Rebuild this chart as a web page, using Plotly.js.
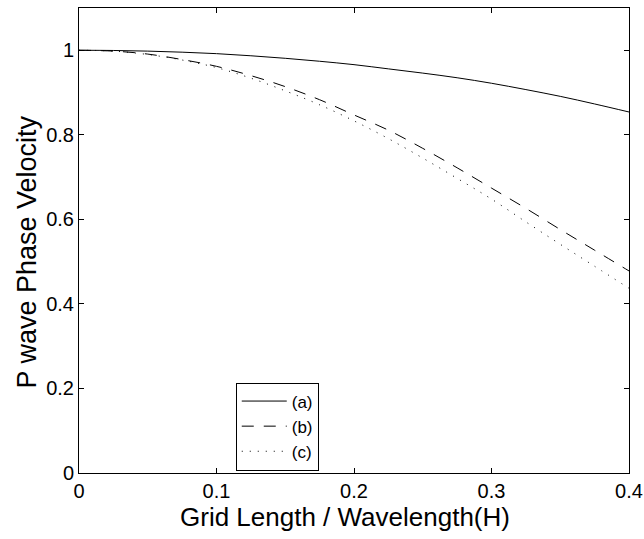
<!DOCTYPE html>
<html>
<head>
<meta charset="utf-8">
<script src="https://cdn.plot.ly/plotly-3.0.1.min.js"></script>
<style>html,body{margin:0;padding:0;background:#fff;}#chart{width:644px;height:539px;}</style>
</head>
<body>
<div id="chart"></div>
<script>
var xValues = [0, 0.025, 0.05, 0.075, 0.1, 0.125, 0.15, 0.175, 0.2, 0.225, 0.25, 0.275, 0.3, 0.325, 0.35, 0.375, 0.4];
var seriesA = [1.000, 0.9995, 0.998, 0.9955, 0.992, 0.987, 0.981, 0.974, 0.966, 0.956, 0.946, 0.935, 0.922, 0.907, 0.891, 0.873, 0.854];
var seriesB = [1.000, 0.998, 0.991, 0.978, 0.962, 0.940, 0.914, 0.883, 0.847, 0.811, 0.768, 0.722, 0.674, 0.626, 0.576, 0.527, 0.478];
var seriesC = [1.000, 0.998, 0.990, 0.977, 0.959, 0.934, 0.904, 0.871, 0.833, 0.791, 0.745, 0.697, 0.648, 0.594, 0.541, 0.489, 0.437];
var seriesNames = ['(a)', '(b)', '(c)'];
var xTicks = [0, 0.1, 0.2, 0.3, 0.4];
var xTickText = ['0', '0.1', '0.2', '0.3', '0.4'];
var yTicks = [0, 0.2, 0.4, 0.6, 0.8, 1];
var yTickText = ['0', '0.2', '0.4', '0.6', '0.8', '1'];
var xTitle = 'Grid Length / Wavelength(H)';
var yTitle = 'P wave Phase Velocity';

var font = 'Liberation Sans, Arial, Helvetica, sans-serif';
var traces = [
  {x: xValues, y: seriesA, name: seriesNames[0], mode: 'lines', line: {color: '#000', width: 1, shape: 'spline'}},
  {x: xValues, y: seriesB, name: seriesNames[1], mode: 'lines', line: {color: '#000', width: 1, dash: '12px,10px', shape: 'spline'}},
  {x: xValues, y: seriesC, name: seriesNames[2], mode: 'lines', line: {color: '#000', width: 1, dash: '1px,7px', shape: 'spline'}}
];
var axisCommon = {
  showgrid: false, zeroline: false, showline: true, linecolor: '#000', linewidth: 1,
  mirror: 'ticks', ticks: 'inside', ticklen: 5, tickcolor: '#000', tickwidth: 1,
  tickfont: {family: font, size: 20, color: '#000'}
};
var layout = {
  width: 644, height: 539,
  margin: {l: 79, r: 15, t: 8, b: 66},
  paper_bgcolor: '#fff', plot_bgcolor: '#fff',
  font: {family: font, color: '#000'},
  showlegend: true,
  legend: {
    x: 0.285, y: 0.1, xanchor: 'left', yanchor: 'middle',
    bordercolor: '#000', borderwidth: 1, bgcolor: '#fff',
    font: {family: font, size: 17, color: '#000'},
    tracegroupgap: 0, itemwidth: 45
  },
  xaxis: Object.assign({}, axisCommon, {range: [0, 0.4], tickvals: xTicks, ticktext: xTickText}),
  yaxis: Object.assign({}, axisCommon, {range: [0, 1.1], tickvals: yTicks, ticktext: yTickText}),
  annotations: [
    {text: xTitle, xref: 'paper', yref: 'paper', x: 0.4836, y: -0.0946, xanchor: 'center', yanchor: 'middle',
     showarrow: false, font: {family: font, size: 26, color: '#000'}},
    {text: yTitle, xref: 'paper', yref: 'paper', x: -0.0945, y: 0.474, xanchor: 'center', yanchor: 'middle',
     textangle: -90, showarrow: false, font: {family: font, size: 27, color: '#000'}}
  ]
};
Plotly.newPlot('chart', traces, layout, {displayModeBar: false, staticPlot: true});
</script>
</body>
</html>
